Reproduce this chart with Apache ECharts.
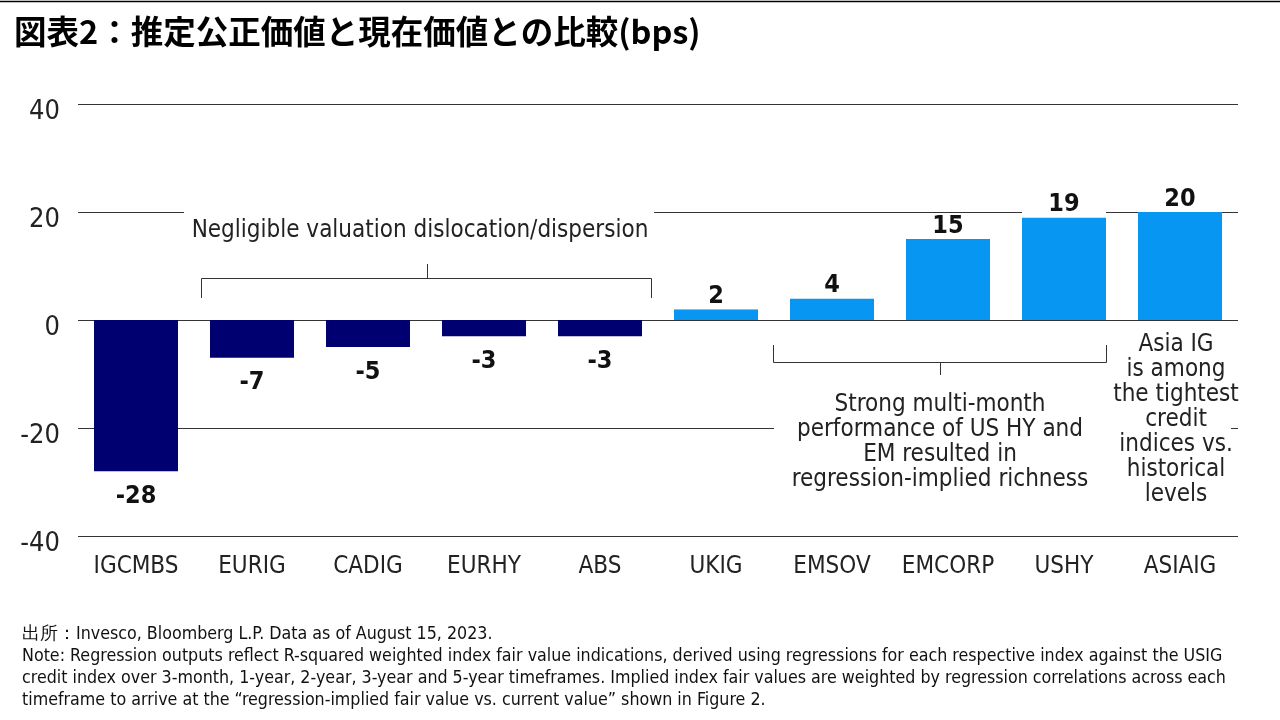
<!DOCTYPE html>
<html>
<head>
<meta charset="utf-8">
<script src="https://cdn.jsdelivr.net/npm/echarts@6/dist/echarts.min.js"></script>
<style>
  html, body { margin: 0; padding: 0; background: #fff; }
  #chart { width: 1280px; height: 720px; }
</style>
</head>
<body>
<div id="chart"></div>
<script>
const categories = ['IGCMBS', 'EURIG', 'CADIG', 'EURHY', 'ABS', 'UKIG', 'EMSOV', 'EMCORP', 'USHY', 'ASIAIG'];
const values = [-28, -7, -5, -3, -3, 2, 4, 15, 19, 20];
const yTicks = { min: -40, max: 40, interval: 20 };

const NARROW = "'Liberation Sans Narrow', 'DejaVu Sans Condensed', sans-serif";
const NAVY = '#000070';
const BLUE = '#0797f2';
const TEXT = '#222';
const BRACKET = '#333';

const chart = echarts.init(document.getElementById('chart'));

const barData = values.map(function (v) {
  const pos = v >= 0;
  return {
    value: v,
    itemStyle: { color: pos ? BLUE : NAVY },
    label: pos
      ? { position: 'top', distance: 0, padding: [0, 0, 0, 0], backgroundColor: '#fff', width: 84, align: 'center' }
      : { position: 'bottom', distance: 12 }
  };
});

const noteLines = [
  '出所：Invesco, Bloomberg L.P. Data as of August 15, 2023.',
  'Note: Regression outputs reflect R-squared weighted index fair value indications, derived using regressions for each respective index against the USIG',
  'credit index over 3-month, 1-year, 2-year, 3-year and 5-year timeframes. Implied index fair values are weighted by regression correlations across each',
  'timeframe to arrive at the “regression-implied fair value vs. current value” shown in Figure 2.'
];

const option = {
  animation: false,
  grid: { left: 78, right: 42, top: 104, bottom: 184 },
  xAxis: {
    type: 'category',
    data: categories,
    axisLine: { show: false },
    axisTick: { show: false },
    axisLabel: { interval: 0, color: TEXT, fontFamily: NARROW, fontSize: 24, margin: 19 }
  },
  yAxis: {
    type: 'value',
    min: yTicks.min,
    max: yTicks.max,
    interval: yTicks.interval,
    axisLine: { show: false },
    axisTick: { show: false },
    // labels sit a little below their gridlines in the original
    axisLabel: { color: TEXT, fontFamily: NARROW, fontSize: 27, margin: 18, verticalAlign: 'top', lineHeight: 16 },
    splitLine: { lineStyle: { color: '#333', width: 1 } }
  },
  series: [{
    type: 'bar',
    data: barData,
    barWidth: 84,
    label: {
      show: true,
      color: '#111',
      fontFamily: NARROW,
      fontWeight: 'bold',
      fontSize: 25,
      lineHeight: 26
    }
  }],
  graphic: [
    { type: 'line', z: 100, shape: { x1: 0, y1: 1.5, x2: 1280, y2: 1.5 }, style: { stroke: '#000', lineWidth: 1.5 } },
    {
      type: 'text', z: 100, left: 14, top: 15,
      style: {
        text: '図表2：推定公正価値と現在価値との比較(bps)',
        fontFamily: "'Noto Sans CJK JP', sans-serif",
        fontWeight: 'bold', fontSize: 32.5, fill: '#000'
      }
    },
    // white boxes hiding gridlines behind annotations
    { type: 'rect', z: 100, shape: { x: 184, y: 205, width: 470, height: 16 }, style: { fill: '#fff' } },
    { type: 'rect', z: 100, shape: { x: 774, y: 424, width: 457, height: 10 }, style: { fill: '#fff' } },
    {
      type: 'text', z: 101, x: 420, y: 231,
      style: {
        text: 'Negligible valuation dislocation/dispersion',
        fontFamily: NARROW, fontSize: 24, fill: TEXT, align: 'center', verticalAlign: 'middle'
      }
    },
    { type: 'polyline', z: 101, shape: { points: [[201.5, 298], [201.5, 278.5], [651.5, 278.5], [651.5, 298]] }, style: { stroke: BRACKET, lineWidth: 1, fill: null } },
    { type: 'line', z: 101, shape: { x1: 427.5, y1: 278.5, x2: 427.5, y2: 264 }, style: { stroke: BRACKET, lineWidth: 1 } },
    { type: 'polyline', z: 101, shape: { points: [[773.5, 345], [773.5, 362.5], [1106.5, 362.5], [1106.5, 345]] }, style: { stroke: BRACKET, lineWidth: 1, fill: null } },
    { type: 'line', z: 101, shape: { x1: 940.5, y1: 362.5, x2: 940.5, y2: 375 }, style: { stroke: BRACKET, lineWidth: 1 } },
    {
      type: 'text', z: 101, x: 940, y: 392,
      style: {
        text: 'Strong multi-month\nperformance of US HY and\nEM resulted in\nregression-implied richness',
        fontFamily: NARROW, fontSize: 24, lineHeight: 25, fill: TEXT, align: 'center', verticalAlign: 'top'
      }
    },
    {
      type: 'text', z: 101, x: 1176, y: 332,
      style: {
        text: 'Asia IG\nis among\nthe tightest\ncredit\nindices vs.\nhistorical\nlevels',
        fontFamily: NARROW, fontSize: 24, lineHeight: 25, fill: TEXT, align: 'center', verticalAlign: 'top'
      }
    },
    {
      type: 'text', z: 100, left: 22, top: 623,
      style: {
        text: noteLines.join('\n'),
        fontFamily: NARROW, fontSize: 17.7, lineHeight: 22, fill: '#111'
      }
    }
  ]
};

chart.setOption(option);
</script>
</body>
</html>
